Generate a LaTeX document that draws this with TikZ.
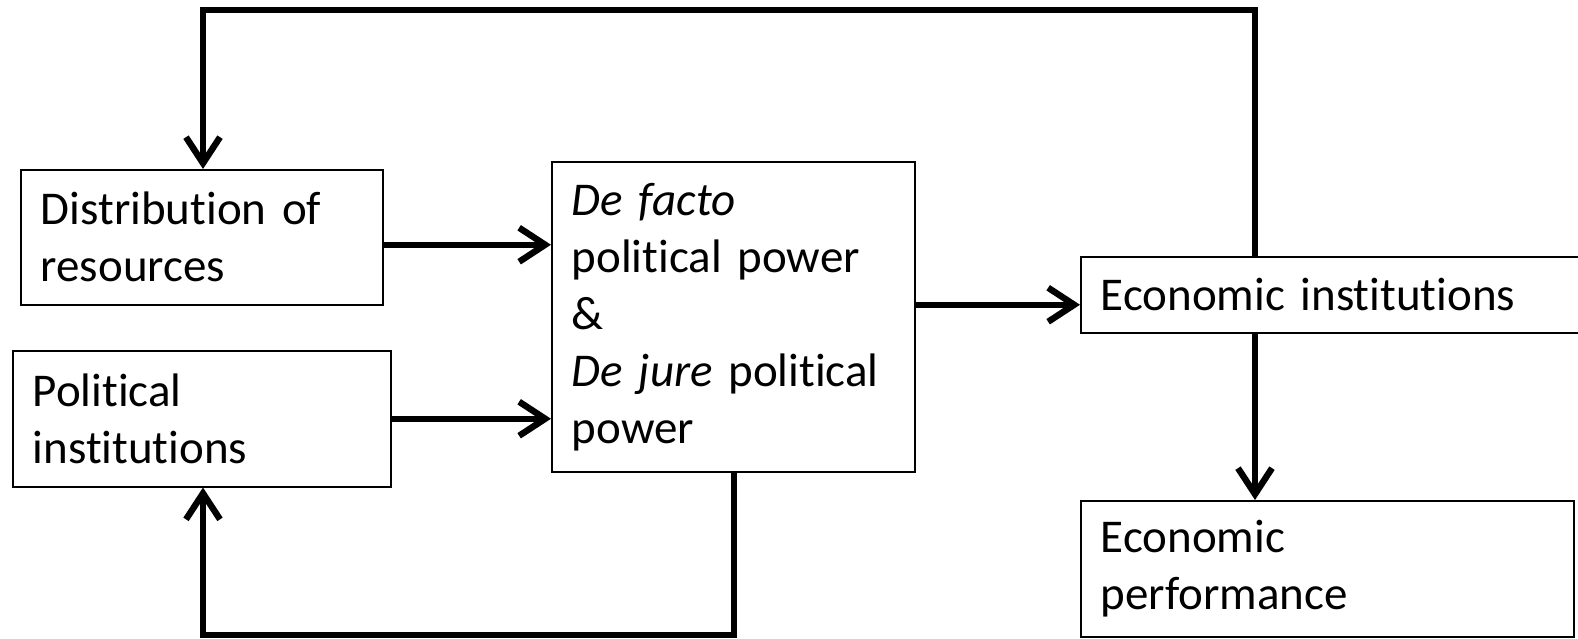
\documentclass[tikz,border=0pt]{standalone}
\usepackage{fontspec}
\setmainfont[Ligatures=NoCommon]{Carlito}
\usetikzlibrary{arrows.meta}
\begin{document}
\begin{tikzpicture}[x=0.5pt,y=-0.5pt,
    box/.style={draw,line width=0.75pt,align=left,anchor=north west,inner xsep=10pt,inner ysep=4pt,
      font=\fontsize{23.5}{28.5}\selectfont},
    flow/.style={line width=3.2pt,-{Straight Barb[length=13pt,width=17pt]}}]
  \useasboundingbox (0,0) rectangle (1578,638);
  \node[box,text width=161pt,minimum height=67.5pt] (dist) at (20,169) {Distribution of\\resources};
  \node[box,text width=169pt,minimum height=68pt] (pol) at (12,350) {Political\\institutions};
  \node[box,text width=161.5pt,minimum height=155pt] (power) at (551,161)
    {\textit{De facto}\\political power\\\&\\\textit{De jure} political\\power};
  \node[box,text width=230pt,minimum height=38pt] (einst) at (1080,256) {Economic institutions};
  \node[box,text width=226.5pt,minimum height=68pt] (eperf) at (1080,500) {Economic\\performance};
  \coordinate (topR) at (1255,10);
  \coordinate (topL) at (203,10);
  \coordinate (botR) at (734,635);
  \coordinate (botL) at (203,635);
  \draw[flow] ([yshift=-3.75pt]dist.east) -- ([yshift=-3.75pt]dist.east -| power.west);
  \draw[flow] (pol.east) -- (pol.east -| power.west);
  \draw[flow] ([yshift=6pt]power.east) -- ([yshift=6pt]power.east -| einst.west);
  \draw[flow] (einst.south -| topR) -- (eperf.north -| topR);
  \draw[flow] (einst.north -| topR) |- (topL) -- (dist.north -| topL);
  \draw[flow] (power.south -| botR) |- (botL) -- (pol.south -| botL);
\end{tikzpicture}
\end{document}
